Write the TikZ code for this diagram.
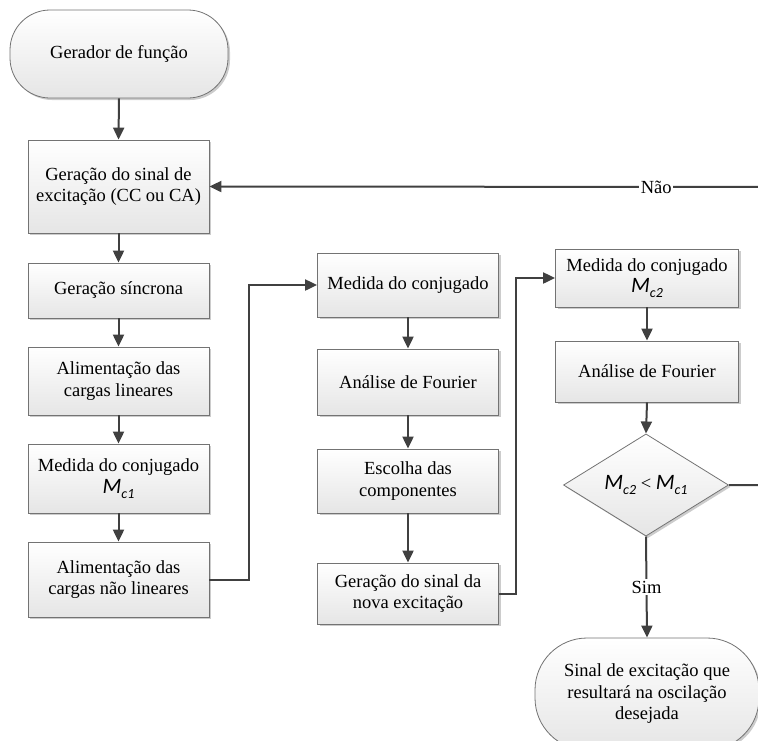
\documentclass[tikz,border=0pt]{standalone}
\usepackage{fontspec}
\setmainfont{Liberation Serif}
\newfontfamily\calib{Carlito}
\usetikzlibrary{shapes.geometric,arrows.meta,shadows}
\newcommand{\Mc}[1]{{\calib\itshape\fontsize{22}{22}\selectfont M\raisebox{-0.22em}{\fontsize{14}{14}\selectfont #1}}}
\begin{document}
\begin{tikzpicture}[x=1pt,y=-1pt,
  every node/.style={font=\fontsize{18.5}{21.5}\selectfont, align=center},
  proc/.style={rectangle, draw=black!55, line width=0.8pt, top color=white, bottom color=black!10,
    drop shadow={shadow xshift=2pt,shadow yshift=-2pt,fill=black!20,opacity=1},
    minimum width=181pt, inner sep=0pt},
  term/.style={proc},
  dec/.style={diamond, draw=black!55, line width=0.8pt, top color=white, bottom color=black!10,
    drop shadow={shadow xshift=2pt,shadow yshift=-2pt,fill=black!20,opacity=1},
    minimum width=165pt, minimum height=98pt, inner sep=0pt},
  conn/.style={draw=black!75, line width=2pt},
  arr/.style={conn, -{Triangle[length=12pt,width=11pt]}},
  lbl/.style={fill=white, inner sep=1.5pt}
]
\clip (0,0) rectangle (758,740);
% left column
\node[term, minimum width=218pt, minimum height=88pt, rounded corners=40pt] (t1) at (119,54) {Gerador de função};
\node[proc, minimum height=93pt] (b1) at (118.5,186.5) {Geração do sinal de\\excitação (CC ou CA)};
\node[proc, minimum height=55pt] (b2) at (118.5,290.5) {Geração síncrona};
\node[proc, minimum height=68pt] (b3) at (118.5,381) {Alimentação das\\cargas lineares};
\node[proc, minimum height=69pt] (b4) at (118.5,478.5) {Medida do conjugado\\\Mc{c1}};
\node[proc, minimum height=75pt] (b5) at (118.5,579.5) {Alimentação das\\cargas não lineares};
% middle column
\node[proc, minimum height=64pt] (m1) at (408,285) {Medida do conjugado};
\node[proc, minimum height=66pt] (m2) at (408,382) {Análise de Fourier};
\node[proc, minimum height=64pt] (m3) at (408,481) {Escolha das\\componentes};
\node[proc, minimum height=61pt] (m4) at (408,593.5) {Geração do sinal da\\nova excitação};
% right column
\node[proc, minimum width=183pt, minimum height=58pt] (r1) at (647,278) {Medida do conjugado\\\Mc{c2}};
\node[proc, minimum width=183pt, minimum height=61pt] (r2) at (647,371.5) {Análise de Fourier};
\node[dec] (d) at (646,485) {\Mc{c2} < \Mc{c1}};
\node[term, minimum width=224pt, minimum height=112pt, rounded corners=52pt] (t2) at (647,694) {Sinal de excitação que\\resultará na oscilação\\desejada};
% off-page return path
\coordinate (offR) at (775,485);
\coordinate (offT) at (775,187);
% connectors
\draw[arr] (t1.south) -- (b1.north);
\draw[arr] (b1.south) -- (b2.north);
\draw[arr] (b2.south) -- (b3.north);
\draw[arr] (b3.south) -- (b4.north);
\draw[arr] (b4.south) -- (b5.north);
\draw[arr] (b5.east) -- ++(40,0) |- (m1.west);
\draw[arr] (m1.south) -- (m2.north);
\draw[arr] (m2.south) -- (m3.north);
\draw[arr] (m3.south) -- (m4.north);
\draw[arr] (m4.east) -- ++(17.5,0) |- (r1.west);
\draw[arr] (r1.south) -- (r2.north);
\draw[arr] (r2.south) -- (d.north);
\draw[arr] (d.south) -- node[lbl, pos=0.5] {Sim} (t2.north);
\draw[arr] (d.east) -- (offR) -- (offT) -- node[lbl, pos=0.21] {Não} (b1.east);
\end{tikzpicture}
\end{document}
